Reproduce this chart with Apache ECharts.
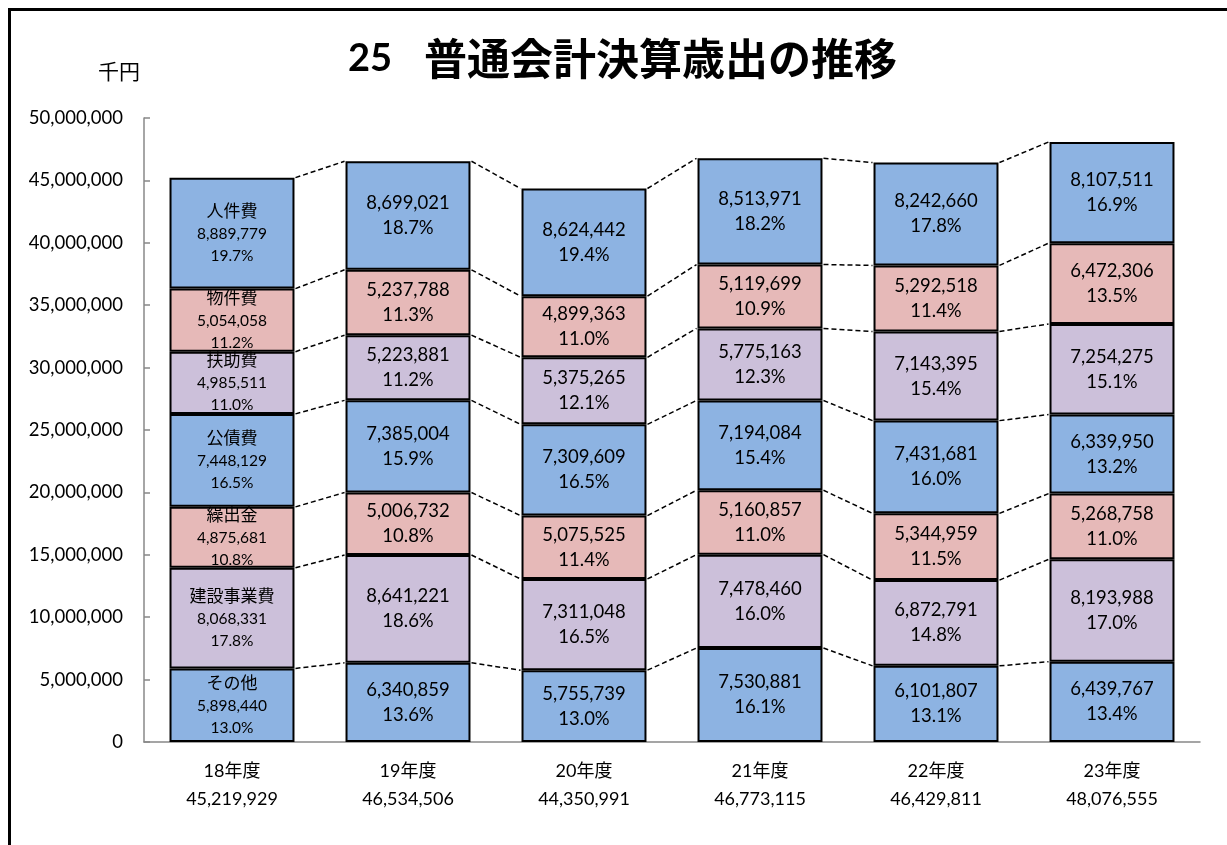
<!DOCTYPE html>
<html><head><meta charset="utf-8">
<script src="https://cdn.jsdelivr.net/npm/echarts@6/dist/echarts.min.js"></script>
<style>html,body{margin:0;padding:0;background:#fff}#c{width:1227px;height:845px}</style>
</head><body><div id="c"></div>
<script>
const years = ['18年度','19年度','20年度','21年度','22年度','23年度'];
const totals = [45219929, 46534506, 44350991, 46773115, 46429811, 48076555];
// bottom to top
const seriesNames = ['その他','建設事業費','繰出金','公債費','扶助費','物件費','人件費'];
const sonota   = [5898440, 6340859, 5755739, 7530881, 6101807, 6439767];
const kensetsu = [8068331, 8641221, 7311048, 7478460, 6872791, 8193988];
const kuridashi= [4875681, 5006732, 5075525, 5160857, 5344959, 5268758];
const kosai    = [7448129, 7385004, 7309609, 7194084, 7431681, 6339950];
const fujo     = [4985511, 5223881, 5375265, 5775163, 7143395, 7254275];
const bukken   = [5054058, 5237788, 4899363, 5119699, 5292518, 6472306];
const jinken   = [8889779, 8699021, 8624442, 8513971, 8242660, 8107511];
const pctSonota   = ['13.0','13.6','13.0','16.1','13.1','13.4'];
const pctKensetsu = ['17.8','18.6','16.5','16.0','14.8','17.0'];
const pctKuridashi= ['10.8','10.8','11.4','11.0','11.5','11.0'];
const pctKosai    = ['16.5','15.9','16.5','15.4','16.0','13.2'];
const pctFujo     = ['11.0','11.2','12.1','12.3','15.4','15.1'];
const pctBukken   = ['11.2','11.3','11.0','10.9','11.4','13.5'];
const pctJinken   = ['19.7','18.7','19.4','18.2','17.8','16.9'];

const values = [sonota, kensetsu, kuridashi, kosai, fujo, bukken, jinken];
const pcts = [pctSonota, pctKensetsu, pctKuridashi, pctKosai, pctFujo, pctBukken, pctJinken];
const BLUE = '#8DB3E2', PINK = '#E6B9B8', LAV = '#CCC0DA';
const colors = [BLUE, LAV, PINK, BLUE, LAV, PINK, BLUE];
const fmt = v => v.toLocaleString('en-US');
const FONT = 'Lato, "Noto Sans CJK JP", sans-serif';
const BW = 0.71;

const series = [];
values.forEach((arr, s) => {
  series.push({
    type: 'bar', name: seriesNames[s], stack: 'total', barWidth: (BW*100)+'%',
    itemStyle: {color: colors[s], borderColor: '#000', borderWidth: 2},
    data: arr.map((v, i) => ({
      value: v,
      label: {
        show: true, position: 'inside', color: '#000', fontFamily: FONT,
        formatter: i === 0 ? '{n|' + seriesNames[s] + '}\n{v|' + fmt(v) + '}\n{v|' + pcts[s][i] + '%}'
                           : '{b|' + fmt(v) + '}\n{b|' + pcts[s][i] + '%}',
        rich: {
          n: {fontSize: 17, lineHeight: 23, fontFamily: FONT, color: '#000'},
          v: {fontSize: 15.5, lineHeight: 22, fontFamily: FONT, color: '#000'},
          b: {fontSize: 18.5, lineHeight: 25, fontFamily: FONT, color: '#000'}
        }
      }
    }))
  });
});

// dashed connector lines between cumulative tops
const connData = [];
for (let s = 0; s < values.length; s++) {
  for (let i = 0; i < years.length - 1; i++) {
    let a = 0, b = 0;
    for (let k = 0; k <= s; k++) { a += values[k][i]; b += values[k][i+1]; }
    connData.push([i, a, b]);
  }
}
series.push({
  type: 'custom', silent: true, z: 5,
  renderItem: function(params, api) {
    const i = api.value(0);
    const p1 = api.coord([i, api.value(1)]);
    const p2 = api.coord([i + 1, api.value(2)]);
    const bw = api.size([1, 0])[0] * BW;
    return {type: 'line', shape: {x1: p1[0] + bw/2 + 1, y1: p1[1], x2: p2[0] - bw/2 - 1, y2: p2[1]},
      style: {stroke: '#000', lineWidth: 1.5, lineDash: [5, 3]}};
  },
  data: connData
});

const chart = echarts.init(document.getElementById('c'));
chart.setOption({
  animation: false,
  backgroundColor: '#fff',
  title: {text: '{d|25}{s| }{c|普通会計決算歳出の推移}', left: 343, top: 32,
    textStyle: {rich: {
      d: {fontSize: 38, fontWeight: 'bold', color: '#000', fontFamily: 'Lato, sans-serif'},
      s: {fontSize: 38, width: 32},
      c: {fontSize: 43, fontWeight: 'bold', color: '#000', fontFamily: '"Noto Sans CJK JP", sans-serif'}
    }}},
  graphic: [
    {type: 'rect', shape: {x: 9.5, y: 9.5, width: 1300, height: 900}, style: {fill: 'none', stroke: '#000', lineWidth: 3}, silent: true},
    {type: 'text', left: 98, top: 62, style: {text: '千円', fontSize: 21, fill: '#000', fontFamily: FONT}}
  ],
  grid: {left: 144, right: 27, top: 118, bottom: 103, containLabel: false},
  xAxis: {
    type: 'category', data: years,
    axisLine: {lineStyle: {color: '#888', width: 1.5}},
    axisTick: {show: false},
    axisLabel: {color: '#000', fontFamily: FONT, margin: 15, lineHeight: 28, fontSize: 18,
      formatter: (v, idx) => v + '\n' + fmt(totals[idx])}
  },
  yAxis: {
    type: 'value', min: 0, max: 50000000, interval: 5000000,
    splitLine: {show: false},
    axisLine: {show: true, lineStyle: {color: '#888', width: 1.5}},
    axisTick: {show: true, inside: true, length: 6, lineStyle: {color: '#888', width: 1.5}},
    axisLabel: {color: '#000', fontFamily: FONT, fontSize: 18.5, margin: 21,
      formatter: v => fmt(v)}
  },
  series: series
});
</script></body></html>
